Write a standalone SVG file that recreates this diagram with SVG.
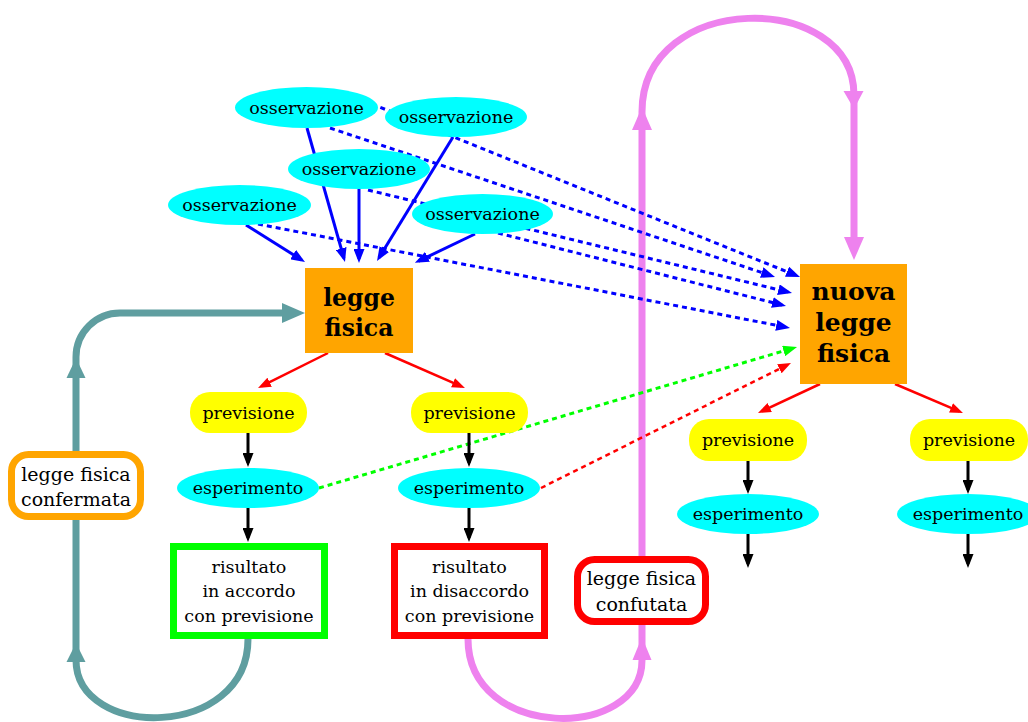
<svg xmlns="http://www.w3.org/2000/svg" width="1028" height="722" viewBox="0 0 1028 722">
<style>
text{font-family:"DejaVu Serif","Liberation Serif",serif;fill:#000;text-anchor:middle}
.t{font-size:17.5px}
.tb{font-size:19px}
.bold{font-size:23.5px;font-weight:bold}
.big{font-size:25px;font-weight:bold}
.obs,.esp{fill:#00FFFF}
.prev{fill:#FFFF00}
.law{fill:#FFA500}
.blue{stroke:#0000FF;stroke-width:3;fill:none;marker-end:url(#ab)}
.dot{stroke-dasharray:5 4}
.red{stroke:#FF0000;stroke-width:2.5;fill:none;marker-end:url(#ar)}
.blk{stroke:#000;stroke-width:3;fill:none;marker-end:url(#ak)}
.grn{stroke:#00FF00;stroke-width:3;fill:none;stroke-dasharray:5 4;marker-end:url(#ag)}
.teal{stroke:#5F9EA0;stroke-width:7;fill:none}
.vio{stroke:#EE82EE;stroke-width:7;fill:none}
</style>
<defs>
<marker id="ab" markerUnits="userSpaceOnUse" viewBox="0 0 14 11" refX="10" refY="5.5" markerWidth="14" markerHeight="11" orient="auto"><path d="M0,0L14,5.5L0,11z" fill="#0000FF"/></marker>
<marker id="ar" markerUnits="userSpaceOnUse" viewBox="0 0 13 10" refX="9" refY="5" markerWidth="13" markerHeight="10" orient="auto"><path d="M0,0L13,5L0,10z" fill="#FF0000"/></marker>
<marker id="ak" markerUnits="userSpaceOnUse" viewBox="0 0 14 11" refX="10" refY="5.5" markerWidth="14" markerHeight="11" orient="auto"><path d="M0,0L14,5.5L0,11z" fill="#000"/></marker>
<marker id="ag" markerUnits="userSpaceOnUse" viewBox="0 0 14 11" refX="10" refY="5.5" markerWidth="14" markerHeight="11" orient="auto"><path d="M0,0L14,5.5L0,11z" fill="#00FF00"/></marker>
</defs>

<g id="connectors">
  <!-- teal loop: confirmed -->
  <path class="teal" d="M248,639 C248,740 76,740 76,660 L76,357 A44,44 0 0 1 120,313 L288,313"/>
  <polygon points="76,643 66.5,662 85.5,662" fill="#5F9EA0"/>
  <polygon points="76,358 66.5,378 85.5,378" fill="#5F9EA0"/>
  <polygon points="305,313 282,303 282,323" fill="#5F9EA0"/>
  <!-- violet loop: refuted -->
  <path class="vio" d="M468,639 C468,741 642,741 642,660 L642,112 C642,-10 854,-10 854,95 L854,240"/>
  <polygon points="642,637 632.5,660 651.5,660" fill="#EE82EE"/>
  <polygon points="642,107 632,130 652,130" fill="#EE82EE"/>
  <polygon points="854,109 843.5,91 863.5,91" fill="#EE82EE"/>
  <polygon points="854,260 844,237 864,237" fill="#EE82EE"/>
  <!-- observations to law -->
  <path class="blue" d="M307,128 L343.9,258.1"/>
  <path class="blue" d="M359,189 L359,259"/>
  <path class="blue" d="M453,137 L379.1,257.6"/>
  <path class="blue" d="M246,225 L301.6,259.9"/>
  <path class="blue" d="M475,234 L418.5,261.1"/>
  <!-- observations to new law (dotted) -->
  <path class="blue dot" d="M372,104 L796.3,275.5"/>
  <path class="blue dot" d="M330,128 L771.2,275.7"/>
  <path class="blue dot" d="M368,190 L788.1,292.1"/>
  <path class="blue dot" d="M498,233 L782.1,305"/>
  <path class="blue dot" d="M258,224 L786.1,327.2"/>
  <path class="grn" d="M319,488 L793.2,348.1"/>
  <path class="red dot" stroke-width="3" d="M541,488 L787.4,364.8"/>
  <!-- law to predictions -->
  <path class="red" d="M328,353 L261.6,386.2"/>
  <path class="red" d="M385,353 L461.3,386.4"/>
  <path class="red" d="M820,384 L761.6,411.3"/>
  <path class="red" d="M895,384 L959.3,411.4"/>
  <!-- prediction to experiment to result -->
  <path class="blk" d="M248,433 L248,463"/>
  <path class="blk" d="M248,508 L248,538"/>
  <path class="blk" d="M469,433 L469,463"/>
  <path class="blk" d="M469,508 L469,538"/>
  <path class="blk" d="M748,461 L748,490"/>
  <path class="blk" d="M748,534 L748,564"/>
  <path class="blk" d="M968,461 L968,490"/>
  <path class="blk" d="M968,534 L968,564"/>
</g>

<g id="obs1"><ellipse class="obs" cx="306.5" cy="107.5" rx="71.5" ry="20.5"/><text class="t" x="306.5" y="114">osservazione</text></g>
<g id="obs2"><ellipse class="obs" cx="456" cy="117" rx="71" ry="20"/><text class="t" x="456" y="123">osservazione</text></g>
<g id="obs3"><ellipse class="obs" cx="359" cy="169" rx="71" ry="20"/><text class="t" x="359" y="175">osservazione</text></g>
<g id="obs4"><ellipse class="obs" cx="239.5" cy="205" rx="71.5" ry="20"/><text class="t" x="239.5" y="211">osservazione</text></g>
<g id="obs5"><ellipse class="obs" cx="482.5" cy="214" rx="70.5" ry="20"/><text class="t" x="482.5" y="220">osservazione</text></g>

<g id="legge"><rect class="law" x="305" y="268" width="108" height="85"/><text class="bold" x="359" y="306">legge</text><text class="bold" x="359" y="336">fisica</text></g>
<g id="nuova"><rect class="law" x="800" y="264" width="107" height="120"/><text class="big" x="853.5" y="300">nuova</text><text class="big" x="853.5" y="331">legge</text><text class="big" x="853.5" y="362">fisica</text></g>

<g id="prev1"><rect class="prev" x="190" y="392" width="117" height="41" rx="20"/><text class="t" x="248.5" y="418.5">previsione</text></g>
<g id="prev2"><rect class="prev" x="411" y="392" width="117" height="41" rx="20"/><text class="t" x="469.5" y="418.5">previsione</text></g>
<g id="prev3"><rect class="prev" x="689" y="419" width="118" height="42" rx="20"/><text class="t" x="748" y="446">previsione</text></g>
<g id="prev4"><rect class="prev" x="910" y="419" width="118" height="42" rx="20"/><text class="t" x="969" y="446">previsione</text></g>

<g id="esp1"><ellipse class="esp" cx="248" cy="488" rx="71" ry="20"/><text class="t" x="248" y="494">esperimento</text></g>
<g id="esp2"><ellipse class="esp" cx="469" cy="488" rx="71" ry="20"/><text class="t" x="469" y="494">esperimento</text></g>
<g id="esp3"><ellipse class="esp" cx="748" cy="514" rx="71" ry="20"/><text class="t" x="748" y="520">esperimento</text></g>
<g id="esp4"><ellipse class="esp" cx="968" cy="514" rx="71" ry="20"/><text class="t" x="968" y="520">esperimento</text></g>

<g id="accordo"><rect x="173.5" y="546.5" width="151" height="89" fill="#fff" stroke="#00FF00" stroke-width="7"/><text class="t" x="249" y="573">risultato</text><text class="t" x="249" y="597">in accordo</text><text class="t" x="249" y="622">con previsione</text></g>
<g id="disaccordo"><rect x="394.5" y="546.5" width="150" height="89" fill="#fff" stroke="#FF0000" stroke-width="7"/><text class="t" x="469.5" y="573">risultato</text><text class="t" x="469.5" y="597">in disaccordo</text><text class="t" x="469.5" y="622">con previsione</text></g>

<g id="confermata"><rect x="11.5" y="454.5" width="129" height="62" rx="17" fill="#fff" stroke="#FFA500" stroke-width="7"/><text class="tb" x="76" y="481">legge fisica</text><text class="tb" x="76" y="506">confermata</text></g>
<g id="confutata"><rect x="577.5" y="559.5" width="128" height="62" rx="17" fill="#fff" stroke="#FF0000" stroke-width="7"/><text class="tb" x="641.5" y="585">legge fisica</text><text class="tb" x="641.5" y="611">confutata</text></g>
</svg>
